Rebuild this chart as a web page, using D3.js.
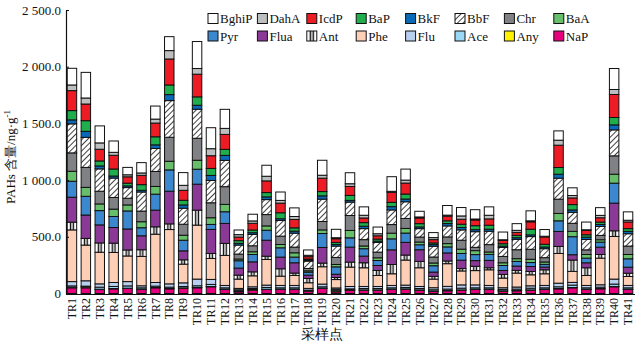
<!DOCTYPE html>
<html>
<head>
<meta charset="utf-8">
<script src="https://cdn.jsdelivr.net/npm/d3@7"></script>
<style>
body { margin: 0; background: #fff; }
svg text { font-family: "Liberation Serif", "Times New Roman", serif; fill: #111; }
</style>
</head>
<body>
<div class="chart"></div>
<script>
// sampling sites
const sites = ["TR1","TR2","TR3","TR4","TR5","TR6","TR7","TR8","TR9","TR10",
    "TR11","TR12","TR13","TR14","TR15","TR16","TR17","TR18","TR19","TR20",
    "TR21","TR22","TR23","TR24","TR25","TR26","TR27","TR28","TR29","TR30",
    "TR31","TR32","TR33","TR34","TR35","TR36","TR37","TR38","TR39","TR40","TR41"];

// PAH concentrations per site, ng/g
const BghiP = [147,226,150,100,65,91,115,123,112,238,185,168,41,59,97,74,76,47,132,74,97,74,59,129,97,50,44,85,74,82,74,68,59,88,59,82,68,68,68,185,74];
const DahA  = [50,53,56,26,18,21,35,74,44,50,62,53,21,21,41,24,26,12,26,9,24,24,18,9,26,9,18,9,29,9,32,6,18,9,6,44,21,6,21,44,15];
const IcdP  = [176,147,103,121,56,82,121,229,88,200,112,132,32,59,103,85,74,21,118,32,79,41,29,88,97,50,29,41,44,50,56,29,26,65,65,197,59,38,38,203,59];
const BaP   = [82,94,44,62,24,50,71,85,41,74,62,53,24,24,38,53,29,9,38,18,44,32,18,38,44,29,15,24,29,35,35,21,21,50,24,59,47,21,21,65,24];
const BkF   = [35,53,26,18,15,15,32,53,29,35,44,44,15,15,24,15,18,9,29,15,15,21,12,29,24,15,15,21,21,18,18,12,15,15,15,35,21,21,18,44,21];
const BbF   = [256,265,197,171,94,168,203,323,141,256,197,232,79,100,132,138,123,65,197,100,118,97,85,129,147,74,94,97,91,138,118,79,91,112,79,185,97,91,79,229,109];
const Chr   = [162,176,112,103,59,94,132,212,97,194,132,156,44,53,100,74,50,21,74,62,132,56,50,76,88,44,53,59,79,29,65,56,79,88,38,126,71,41,38,162,74];
const BaA   = [88,79,59,65,53,53,68,76,44,79,59,65,15,24,38,29,38,12,32,21,65,24,24,50,41,24,24,29,38,35,21,24,24,29,21,65,47,32,21,79,38];
const Pyr   = [141,165,126,97,159,71,141,188,94,132,44,103,65,65,88,82,50,26,123,65,82,65,44,97,82,44,56,53,59,53,53,44,41,35,24,94,159,41,44,176,74];
const Flua  = [220,206,159,138,185,123,147,288,79,229,212,176,62,88,141,103,91,29,138,29,132,59,44,129,112,103,38,71,74,50,65,35,38,44,24,132,47,44,65,244,53];
const Ant   = [68,59,82,82,53,59,65,50,38,132,44,106,35,35,29,65,21,38,32,18,44,44,44,82,44,56,24,24,21,38,18,32,24,29,35,62,100,68,32,50,29];
const Phe   = [456,315,279,265,226,259,426,479,165,476,185,265,82,97,226,82,88,50,153,74,171,165,97,103,221,165,76,200,123,126,138,85,123,97,103,262,97,88,235,376,79];
const Flu   = [38,47,29,35,38,18,32,29,32,59,44,21,12,15,21,21,21,15,24,12,21,18,18,21,21,18,18,24,29,26,21,15,18,21,21,32,24,21,21,44,21];
const Ace   = [12,5,18,18,20,12,12,12,12,15,18,12,10,9,15,12,12,6,12,12,9,12,12,12,12,12,12,12,15,12,12,12,12,15,12,15,21,12,12,21,12];
const Any   = [5,10,3,3,3,3,3,3,3,3,3,3,8,6,3,3,3,3,3,10,3,3,3,3,3,3,3,3,3,3,3,3,3,3,3,3,3,3,3,3,3];
const NaP   = [50,50,35,41,44,35,50,41,47,50,59,35,15,29,35,35,35,21,44,15,29,29,29,35,38,29,18,24,29,35,35,21,24,29,35,41,50,35,41,59,35];

const yTicks = [0, 500, 1000, 1500, 2000, 2500];

// bottom-to-top stacking order
const compounds = ["NaP","Any","Ace","Flu","Phe","Ant","Flua","Pyr","BaA","Chr","BbF","BkF","BaP","IcdP","DahA","BghiP"];
const values = {NaP, Any, Ace, Flu, Phe, Ant, Flua, Pyr, BaA, Chr, BbF, BkF, BaP, IcdP, DahA, BghiP};
const legendOrder = ["BghiP","DahA","IcdP","BaP","BkF","BbF","Chr","BaA",
    "Pyr","Flua","Ant","Phe","Flu","Ace","Any","NaP"];

const fills = {
    BghiP: "#ffffff", DahA: "#bcbec0", IcdP: "#ed1c24", BaP: "#1fae4b",
    BkF: "#0b6ab8", BbF: "url(#hatch)", Chr: "#808184", BaA: "#67bf6b",
    Pyr: "#3b88cf", Flua: "#8a3a96", Ant: "url(#antStripe)", Phe: "#fccfb6",
    Flu: "#b9cff0", Ace: "#9ad8f5", Any: "#fff200", NaP: "#e6007e"
};

const table = sites.map((s, i) => {
    const row = {site: s};
    compounds.forEach(k => row[k] = values[k][i]);
    return row;
});

const width = 638, height = 344;
const svg = d3.select(".chart").append("svg")
    .attr("width", width)
    .attr("height", height);

const defs = svg.append("defs");
const hatch = defs.append("pattern")
    .attr("id", "hatch")
    .attr("patternUnits", "userSpaceOnUse")
    .attr("width", 4).attr("height", 4)
    .attr("patternTransform", "rotate(45)");
hatch.append("rect").attr("width", 4).attr("height", 4).attr("fill", "#fff");
hatch.append("line")
    .attr("x1", 0).attr("y1", 0).attr("x2", 0).attr("y2", 4)
    .attr("stroke", "#111").attr("stroke-width", 1.6);

const ant = defs.append("pattern")
    .attr("id", "antStripe")
    .attr("patternUnits", "objectBoundingBox")
    .attr("patternContentUnits", "objectBoundingBox")
    .attr("width", 1).attr("height", 1);
ant.append("rect").attr("width", 1).attr("height", 1).attr("fill", "#fff");
ant.append("rect").attr("x", 0.28).attr("width", 0.15).attr("height", 1).attr("fill", "#111");
ant.append("rect").attr("x", 0.57).attr("width", 0.15).attr("height", 1).attr("fill", "#111");

const xScale = d3.scaleBand()
    .domain(sites)
    .range([65, 635])
    .paddingInner(0.32)
    .paddingOuter(0.16);

const yScale = d3.scaleLinear()
    .domain([0, 2500])
    .range([293.5, 10]);

const stacked = d3.stack().keys(compounds)(table);

svg.append("g")
    .selectAll("g")
    .data(stacked)
    .join("g")
    .attr("fill", d => fills[d.key])
    .selectAll("rect")
    .data(d => d)
    .join("rect")
    .attr("x", d => xScale(d.data.site))
    .attr("y", d => yScale(d[1]))
    .attr("width", xScale.bandwidth())
    .attr("height", d => yScale(d[0]) - yScale(d[1]))
    .attr("stroke", "#111")
    .attr("stroke-width", 1);

// y axis
const yAxis = d3.axisLeft(yScale)
    .tickValues(yTicks)
    .tickSizeInner(-3)
    .tickSizeOuter(0)
    .tickPadding(5)
    .tickFormat(d => d === 0 ? "0" : d3.format(",.1f")(d).replace(",", " "));

const yg = svg.append("g")
    .attr("transform", "translate(66,0)")
    .call(yAxis);
yg.select(".domain").attr("stroke", "#111").attr("stroke-width", 1.2);
yg.selectAll(".tick line").attr("stroke", "#111");
yg.selectAll(".tick text").attr("font-size", 13).attr("font-family", "Liberation Serif");

// x axis
const xg = svg.append("g")
    .attr("transform", "translate(0,294)")
    .call(d3.axisBottom(xScale).tickSize(0).tickSizeOuter(0));
xg.select(".domain").attr("stroke", "#111").attr("stroke-width", 1)
    .attr("d", "M66,0.5H635");
xg.selectAll(".tick text")
    .attr("font-size", 12)
    .attr("font-family", "Liberation Serif")
    .attr("text-anchor", "end")
    .attr("transform", "rotate(-90)")
    .attr("x", -4)
    .attr("y", 0)
    .attr("dy", "0.35em");

svg.append("text")
    .attr("x", 322)
    .attr("y", 339)
    .attr("text-anchor", "middle")
    .attr("font-size", 14)
    .text("采样点");

const yTitle = svg.append("text")
    .attr("transform", "translate(15,157) rotate(-90)")
    .attr("text-anchor", "middle")
    .attr("font-size", 13);
yTitle.append("tspan").text("PAHs 含量/ng·g");
yTitle.append("tspan").attr("dy", -5).attr("font-size", 9).text("-1");

// legend, two rows of eight
const legend = svg.append("g")
    .selectAll("g")
    .data(legendOrder)
    .join("g")
    .attr("transform", (d, i) => `translate(${208 + (i % 8) * 49.4},${i < 8 ? 13.5 : 31})`);

legend.append("rect")
    .attr("width", 10)
    .attr("height", 10)
    .attr("fill", d => fills[d])
    .attr("stroke", "#111")
    .attr("stroke-width", 1);

legend.append("text")
    .attr("x", 12)
    .attr("y", 9.5)
    .attr("font-size", 13)
    .text(d => d);
</script>
</body>
</html>
